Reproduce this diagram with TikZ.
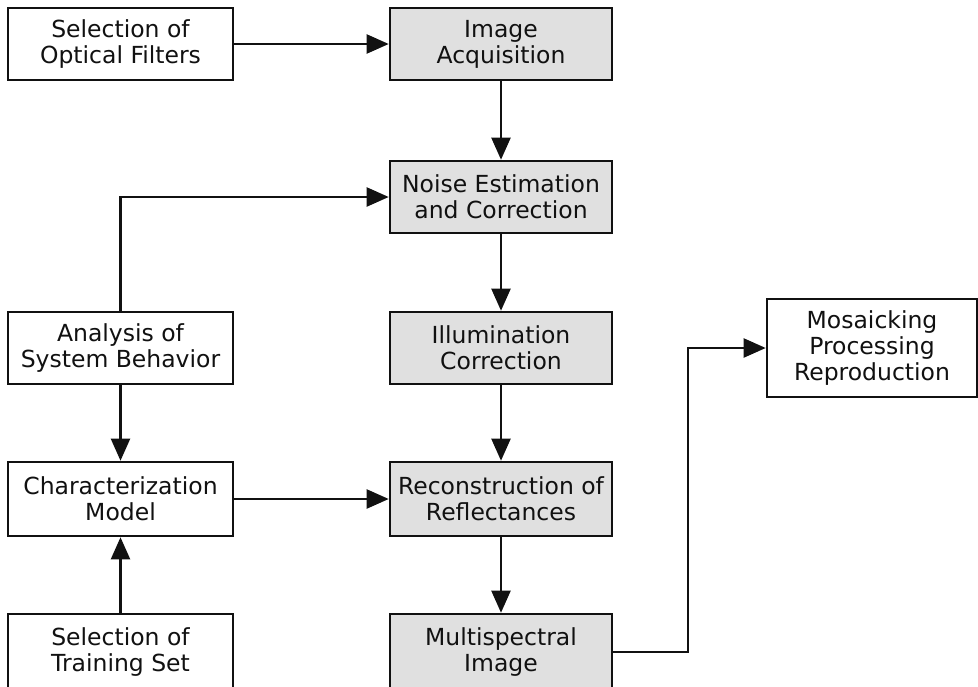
\documentclass[tikz,border=0pt]{standalone}
\usepackage{fontspec}
\setmainfont{DejaVu Sans}
\usetikzlibrary{arrows.meta}
\definecolor{boxgray}{HTML}{E0E0E0}
\definecolor{ink}{HTML}{111111}
\begin{document}
\begin{tikzpicture}[x=1pt,y=-1pt,
  blk/.style={draw=ink, line width=2.6pt, inner sep=0pt, align=center, text=ink,
    font=\fontsize{23.5}{26}\selectfont},
  wbox/.style={blk, fill=white},
  gbox/.style={blk, fill=boxgray},
  leftcol/.style={minimum width=225pt},
  midcol/.style={minimum width=222pt},
  conn/.style={draw=ink, line width=2.2pt, -{Triangle[length=22pt,width=19pt]}}]
\clip (0,0) rectangle (978,686);
\fill[white] (0,0) rectangle (978,686);
% left column
\node[wbox, leftcol, minimum height=72pt] (opt) at (120.5,44) {Selection of\\Optical Filters};
\node[wbox, leftcol, minimum height=72pt] (ana) at (120.5,348) {Analysis of\\System Behavior};
\node[wbox, leftcol, minimum height=74pt] (chr) at (120.5,499) {Characterization\\Model};
\node[wbox, leftcol, minimum height=76pt] (trn) at (120.5,652) {Selection of\\Training Set};
% middle column
\node[gbox, midcol, minimum height=72pt] (acq) at (501,44) {Image\\Acquisition};
\node[gbox, midcol, minimum height=72pt] (noi) at (501,197) {Noise Estimation\\and Correction};
\node[gbox, midcol, minimum height=72pt] (ill) at (501,348) {Illumination\\Correction};
\node[gbox, midcol, minimum height=74pt] (rec) at (501,499) {Reconstruction of\\Reflectances};
\node[gbox, midcol, minimum height=76pt] (mul) at (501,652) {Multispectral\\Image};
% right
\node[wbox, minimum width=210pt, minimum height=98pt] (mos) at (872,348) {Mosaicking\\Processing\\Reproduction};
\coordinate (turn) at (688,0);
% connectors
\draw[conn] (opt) -- (acq);
\draw[conn] (acq) -- (noi);
\draw[conn] (ana.north) |- (noi.west);
\draw[conn] (noi) -- (ill);
\draw[conn] (ill) -- (rec);
\draw[conn] (rec) -- (mul);
\draw[conn] (ana) -- (chr);
\draw[conn] (trn) -- (chr);
\draw[conn] (chr) -- (rec);
\draw[conn] (mul.east) -- (mul.east -| turn) |- (mos.west);
\end{tikzpicture}
\end{document}
